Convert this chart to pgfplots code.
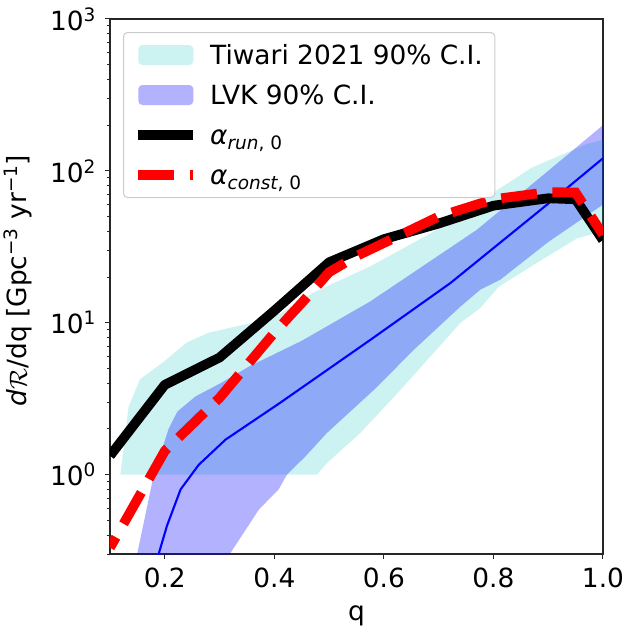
\documentclass[border=0pt]{standalone}
\usepackage{fontspec}
\setmainfont{DejaVu Sans}
\usepackage{pgfplots}
\pgfplotsset{compat=1.18}
\definecolor{tiw}{RGB}{0,191,191}
\definecolor{lvk}{RGB}{0,0,255}
\newcommand{\bigfont}{\fontsize{26.4bp}{31bp}\selectfont}
\pgfplotsset{
  arealeg/.style={legend image code/.code={\fill[##1] (0bp,-10bp) rectangle (55bp,10bp);}},
  lineleg/.style={legend image code/.code={\draw[##1, dash phase=0bp] (0bp,0bp) -- (55bp,0bp);}},
}
\begin{document}
\bigfont
\begin{tikzpicture}
\begin{axis}[
  name=ax,
  scale only axis, width=493bp, height=535bp,
  xmin=0.1, xmax=1.0, ymin=0.3, ymax=1000,
  ymode=log,
  axis line style={line width=1.1bp, black!85},
  tick pos=left, tick align=outside,
  major tick length=5bp, minor tick length=3bp,
  every tick/.style={line width=1bp, black!85},
  xtick={0.2,0.4,0.6,0.8,1.0},
  xticklabels={0.2,0.4,0.6,0.8,1.0},
  ytick={1,10,100,1000},
  yticklabels={10\textsuperscript{0},10\textsuperscript{1},10\textsuperscript{2},10\textsuperscript{3}},
  minor ytick={0.3,0.4,0.5,0.6,0.7,0.8,0.9,2,3,4,5,6,7,8,9,20,30,40,50,60,70,80,90,200,300,400,500,600,700,800,900},
  tick label style={font=\bigfont},
  label style={font=\bigfont},
  xlabel={q},
  ylabel={\textit{d}$\mathcal{R}$/dq [Gpc\textsuperscript{−3} yr\textsuperscript{−1}]},
  ylabel style={at={(ticklabel cs:0.511)}},
  legend cell align=left,
  lineleg,
  legend style={
    at={(axis description cs:0.0264,0.9757)}, anchor=north west,
    font=\bigfont,
    draw=black!20, line width=1bp, rounded corners=4bp,
    fill=white, fill opacity=0.8, text opacity=1,
    inner xsep=10bp, inner ysep=8bp,
    row sep=11bp, column sep=10bp,
    nodes={inner sep=2bp, text height=22bp, text depth=3bp},
  },
]
% Tiwari 2021 band
\addplot[fill=tiw, fill opacity=0.2, draw=none, area legend, arealeg]
coordinates {
(0.119,1.0) (0.134,2.8) (0.155,4.25) (0.2,5.6) (0.24,7.4) (0.28,8.6) (0.36,10) (0.411,11.5)
(0.47,15.7) (0.575,23.5) (0.65,33) (0.76,55) (0.8,72) (0.87,105) (0.97,150) (1.0,160)
(1.0,40) (0.953,36) (0.873,24) (0.81,17.3) (0.776,12.5) (0.74,10) (0.63,3.6) (0.557,1.88)
(0.496,1.19) (0.478,1.0)
};
\addlegendentry{Tiwari 2021 90\% C.I.}
% LVK band
\addplot[fill=lvk, fill opacity=0.3, draw=none, area legend, arealeg]
coordinates {
(0.14,0.2) (0.15,0.305) (0.18,1.0) (0.207,2.0) (0.223,2.6) (0.256,3.27) (0.302,4.0) (0.356,5.2)
(0.45,7.6) (0.575,13.8) (0.72,31) (0.77,41) (0.9,100) (1.0,200)
(1.0,60) (0.9,34) (0.8125,19.2) (0.776,16.5) (0.74,12.8) (0.654,6.6) (0.585,3.7)
(0.496,1.88) (0.457,1.32) (0.423,1.0) (0.408,0.80) (0.372,0.59) (0.32,0.305) (0.31,0.27)
};
\addlegendentry{LVK 90\% C.I.}
% LVK median
\addplot[lvk, line width=2.1bp, forget plot] coordinates {
(0.18,0.22) (0.19,0.31) (0.204,0.46) (0.229,0.80) (0.262,1.16) (0.311,1.70) (0.41,2.96)
(0.575,7.7) (0.721,18.2) (0.898,60) (1.0,121)
};
% alpha run
\addplot[black, line width=9.7bp, line join=round] coordinates {
(0.1,1.33) (0.2,3.9) (0.3,5.9) (0.4,12.0) (0.5,25) (0.6,35.5) (0.7,45) (0.8,59) (0.9,66) (0.95,65) (1.0,35)
};
\addlegendentry{\textit{α}\textsubscript{\textit{run}, 0}}
% alpha const
\addplot[red, line width=9.7bp, dash pattern=on 36bp off 15.5bp, dash phase=24bp] coordinates {
(0.1,0.33) (0.2,1.43) (0.3,3.2) (0.4,8.6) (0.45,13.5) (0.5,21.5) (0.55,27.5) (0.6,33.5) (0.7,50) (0.8,65) (0.9,72.5) (0.95,72) (1.0,38)
};
\addlegendentry{\textit{α}\textsubscript{\textit{const}, 0}}
\end{axis}
\pgfresetboundingbox
\path ([shift={(-110bp,-73bp)}]ax.south west) rectangle ([shift={(21bp,19bp)}]ax.north east);
\end{tikzpicture}
\end{document}
